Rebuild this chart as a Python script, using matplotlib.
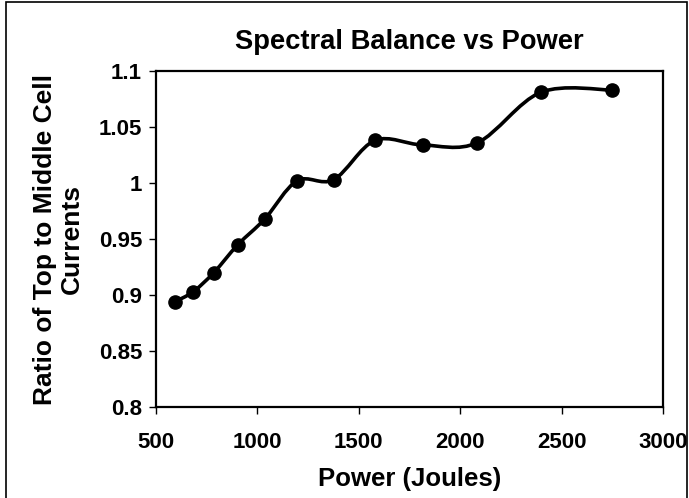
import numpy as np
import matplotlib
matplotlib.use("Agg")
import matplotlib.pyplot as plt
from matplotlib.path import Path
from matplotlib.patches import PathPatch, Rectangle

plt.rcParams['font.family'] = ['Liberation Sans', 'DejaVu Sans']
plt.rcParams['font.weight'] = 'bold'

# data
power = [593, 684, 785, 904, 1037, 1196, 1376, 1580, 1815, 2085, 2398, 2750]
ratio = [0.894, 0.903, 0.920, 0.945, 0.968, 1.002, 1.003, 1.038, 1.034, 1.036, 1.081, 1.083]
x_ticks = [500, 1000, 1500, 2000, 2500, 3000]
y_ticks = [0.8, 0.85, 0.9, 0.95, 1.0, 1.05, 1.1]
y_tick_labels = ['0.8', '0.85', '0.9', '0.95', '1', '1.05', '1.1']

fig = plt.figure(figsize=(6.89, 4.98), dpi=100)
ax = fig.add_axes([0.2264, 0.1827, 0.7359, 0.6747])

# smoothed line like Excel (cubic Bezier through the points)
pts = np.column_stack([power, ratio])
verts = [pts[0]]
codes = [Path.MOVETO]
n = len(pts)
for i in range(n - 1):
    p0 = pts[max(i - 1, 0)]
    p1 = pts[i]
    p2 = pts[i + 1]
    p3 = pts[min(i + 2, n - 1)]
    c1 = p1 + (p2 - p0) / 6.0
    c2 = p2 - (p3 - p1) / 6.0
    verts += [c1, c2, p2]
    codes += [Path.CURVE4] * 3
ax.add_patch(PathPatch(Path(verts, codes), fill=False, edgecolor='black', lw=2.6, zorder=2))
ax.plot(power, ratio, linestyle='none', marker='o', markersize=9.5, color='black', zorder=3)

ax.set_xlim(500, 3000)
ax.set_ylim(0.8, 1.1)
ax.set_xticks(x_ticks)
ax.set_yticks(y_ticks)
ax.set_yticklabels(y_tick_labels)
ax.tick_params(axis='both', direction='out', length=5, width=1, labelsize=16)
ax.tick_params(axis='x', pad=13)
ax.tick_params(axis='y', pad=5)
for s in ax.spines.values():
    s.set_linewidth(1.6)

ax.set_title("Spectral Balance vs Power", fontsize=19.7, fontweight='bold', pad=16)
ax.set_xlabel("Power (Joules)", fontsize=18.5, fontweight='bold', labelpad=10)
ax.set_ylabel("Ratio of Top to Middle Cell\nCurrents", fontsize=19, fontweight='bold',
              labelpad=11, linespacing=1.12)

# outer frame around the chart
fig.patches.append(Rectangle((6 / 689, -0.01), 681 / 689, 1 - 2 / 498 + 0.01,
                             transform=fig.transFigure, fill=False,
                             edgecolor='black', lw=1.2))

fig.savefig("out.png", dpi=100)
